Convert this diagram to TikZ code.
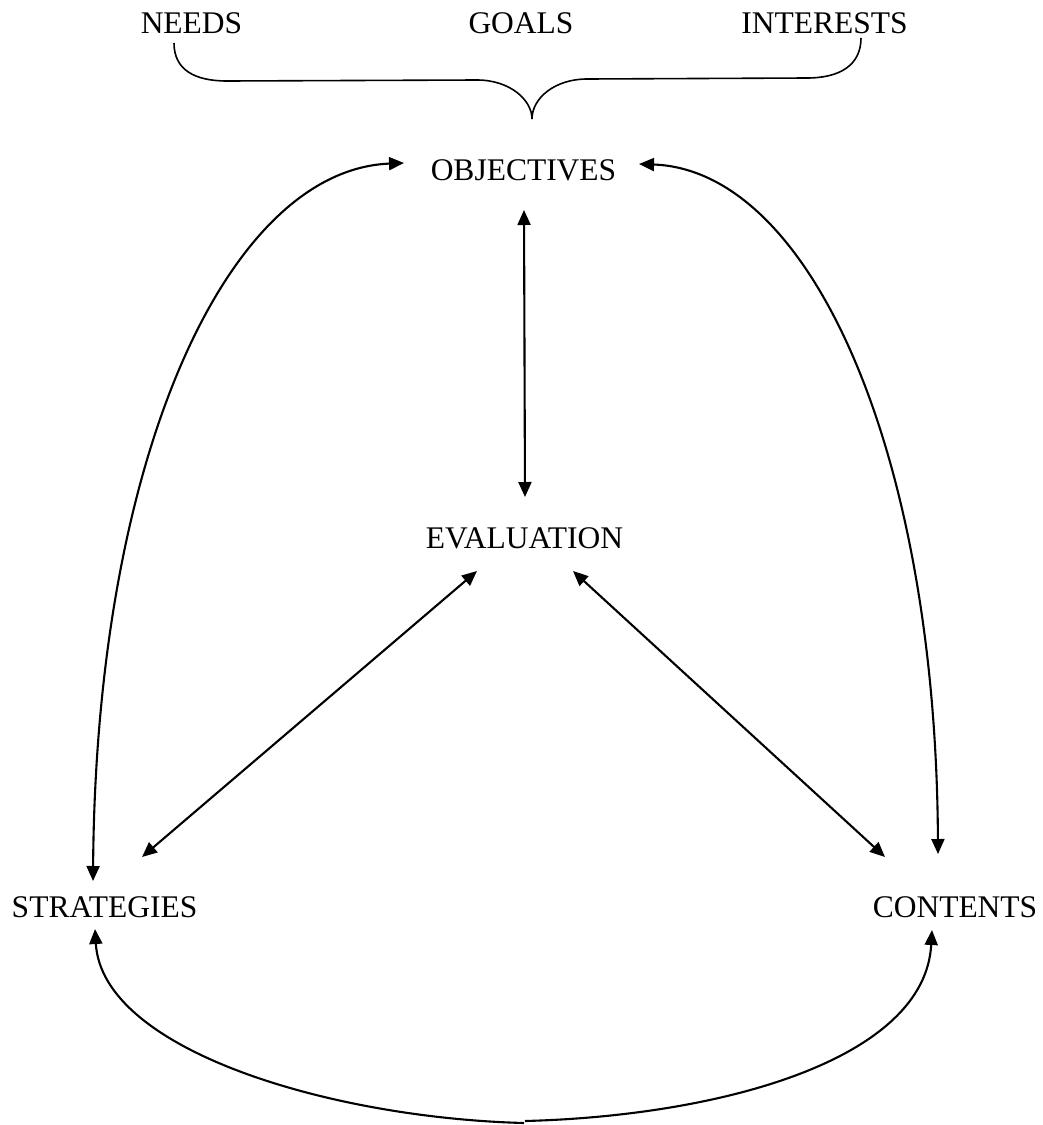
\documentclass[tikz,border=0pt]{standalone}
\usepackage{fontspec}
\setmainfont{Liberation Serif}
\usetikzlibrary{arrows.meta}
\begin{document}
\begin{tikzpicture}[x=1pt,y=-1pt,
  lbl/.style={anchor=base,inner sep=0pt,font=\fontsize{31.5}{36}\selectfont},
  tip/.style={Triangle[length=15pt,width=13pt]},
  conn/.style={line width=2.1pt,{Triangle[length=15pt,width=13pt]}-{Triangle[length=15pt,width=13pt]}},
  halfL/.style={line width=2.1pt,{Triangle[length=15pt,width=13pt]}-},
  halfR/.style={line width=2.1pt,-{Triangle[length=15pt,width=13pt]}},
  bracepath/.style={line width=1.6pt}]
\useasboundingbox (0,0) rectangle (1042,1125);
% labels
\node[lbl] (needs) at (191.5,33) {NEEDS};
\node[lbl] (goals) at (521,33) {GOALS};
\node[lbl] (interests) at (824.5,33) {INTERESTS};
\node[lbl] (obj) at (523.5,180) {OBJECTIVES};
\node[lbl] (eval) at (524.5,548) {EVALUATION};
\node[lbl] (strat) at (104.5,917) {STRATEGIES};
\node[lbl] (cont) at (955,917) {CONTENTS};
% connector end points
\coordinate (objL) at (404,163);
\coordinate (objR) at (639,164);
\coordinate (objB) at (524,210);
\coordinate (evT) at (525,497);
\coordinate (evL) at (477,571);
\coordinate (evR) at (573,571);
\coordinate (stT) at (93,881);
\coordinate (stD) at (142,857);
\coordinate (stB) at (95,929);
\coordinate (coT) at (938,854);
\coordinate (coD) at (885,857);
\coordinate (coB) at (932,930);
\coordinate (botL) at (524,1123);
\coordinate (botR) at (525,1121);
% brace points
\coordinate (brL) at (174,43);
\coordinate (brR) at (861,38);
\coordinate (brTip) at (532,119);
% brace
\draw[bracepath] (brL) .. controls (174,70) and (195,81) .. (227,81) -- (477,80)
  .. controls (510,80) and (532,100) .. (brTip);
\draw[bracepath] (brTip) .. controls (532,98) and (555,79) .. (587,79) -- (807,78)
  .. controls (840,78) and (861,65) .. (brR);
% connectors
\draw[conn] (stT) .. controls (96,450) and (230,170) .. (objL);
\draw[conn] (coT) .. controls (936,450) and (810,170) .. (objR);
\draw[conn] (objB) -- (evT);
\draw[conn] (evL) -- (stD);
\draw[conn] (evR) -- (coD);
\draw[halfL] (stB) .. controls (102,1050) and (330,1118) .. (botL);
\draw[halfR] (botR) .. controls (720,1116) and (925,1060) .. (coB);
\end{tikzpicture}
\end{document}
